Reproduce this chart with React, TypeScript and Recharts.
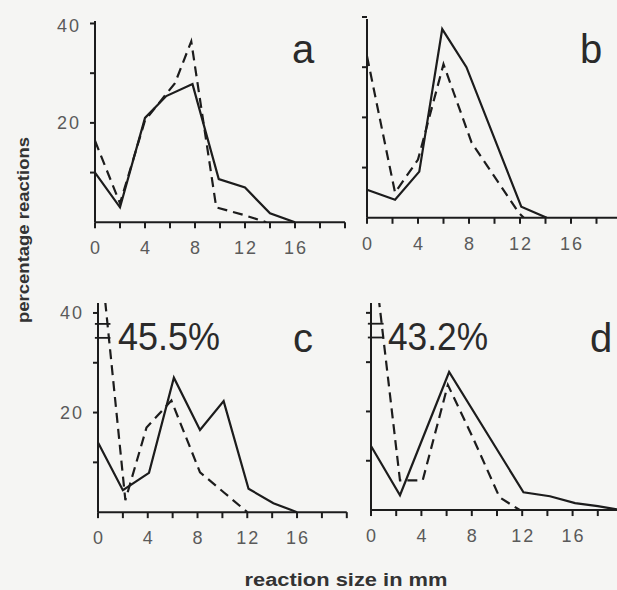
import React from "react";
import { LineChart, Line, XAxis, YAxis, ReferenceLine } from "recharts";

// ── Data ──────────────────────────────────────────────────────────────────────
// each point is [reaction size in mm, percentage reactions]

const X_TICKS = [0, 2, 4, 6, 8, 10, 12, 14, 16, 18, 20];
const X_LABELS = [0, 4, 8, 12, 16];
const Y_TICKS = [10, 20, 30, 40];
const Y_LABELS = [20, 40];

const aSolid = [[0, 10], [2, 3], [4, 21], [5.7, 25.4], [7.8, 27.8], [9.9, 8.7], [12, 7], [14, 1.8], [16, 0]];
const aDashed = [[0, 16.4], [2, 3.8], [4, 20.5], [6.4, 28], [7.7, 36.4], [9.7, 3], [12, 1.4], [13.7, 0]];

const bSolid = [[0, 5.6], [2.2, 3.6], [4.1, 9.2], [5.9, 37.6], [7.8, 30], [12.1, 2.2], [14.1, 0]];
const bDashed = [[0, 32.2], [2.2, 5], [4, 11.6], [6, 30.6], [8.2, 15], [11.9, 1], [12.3, 0]];

const cSolid = [[0, 14], [2, 4.4], [4.1, 7.9], [6.1, 27], [8.2, 16.5], [10.1, 22.3], [12.1, 4.7], [14.1, 1.8], [16, 0]];
const cDashed = [[0.45, 45.5], [2.2, 2.4], [3.9, 17], [5.9, 22.4], [8.2, 8], [10.1, 4], [12, 0]];

const dSolid = [[0, 13], [2.3, 3], [6.2, 28], [12.1, 3.6], [14.2, 2.8], [16.2, 1.4], [18, 0.8], [19.8, 0]];
const dDashed = [[0.6, 43.2], [2.3, 6], [4.1, 6], [6.1, 25.4], [8.1, 14.6], [10.2, 2.6], [11.8, 0]];

// ── Styles ────────────────────────────────────────────────────────────────────

const INK = "#1c1c1c";
const TICK_INK = "#5a5a5a";
const FONT = "'Liberation Sans', Arial, sans-serif";
const Y_W = 50;
const X_H = 40;
const M_T = 4;
const M_R = 4;

const toPts = (arr: number[][]) => arr.map(([x, y]) => ({ x, y }));

function XTick({ x, y, payload }: any) {
  if (!X_LABELS.includes(payload.value)) return <g />;
  return (
    <text x={x + 1} y={y} dy="0.71em" textAnchor="middle" fontFamily={FONT} fontSize={18} letterSpacing={2} fill={TICK_INK}>
      {payload.value}
    </text>
  );
}

function makeYTick(show: boolean) {
  return function YTick({ x, y, payload }: any) {
    if (!show || !Y_LABELS.includes(payload.value)) return <g />;
    return (
      <text x={x} y={y} dy="0.35em" textAnchor="end" fontFamily={FONT} fontSize={18} letterSpacing={2} fill={TICK_INK}>
        {payload.value}
      </text>
    );
  };
}

interface PanelProps {
  x0: number;
  baseline: number;
  xs: number;
  ys: number;
  yMax: number;
  solid: number[][];
  dashed: number[][];
  yLabels?: boolean;
  breakMarks?: boolean;
}

function Panel({ x0, baseline, xs, ys, yMax, solid, dashed, yLabels = false, breakMarks = false }: PanelProps) {
  const plotW = 20 * xs;
  const plotH = yMax * ys;
  const width = Y_W + plotW + M_R;
  const height = M_T + plotH + X_H;
  const axisStyle = { stroke: INK, strokeWidth: 2 };

  return (
    <div style={{ position: "absolute", left: x0 - Y_W, top: baseline - plotH - M_T }}>
      <LineChart width={width} height={height} margin={{ top: M_T, right: M_R, bottom: 0, left: 0 }}>
        <XAxis
          dataKey="x"
          type="number"
          domain={[0, 20]}
          ticks={X_TICKS}
          interval={0}
          height={X_H}
          tickSize={6}
          tickMargin={13}
          axisLine={axisStyle}
          tickLine={axisStyle}
          tick={XTick}
        />
        <YAxis
          type="number"
          domain={[0, yMax]}
          allowDataOverflow
          ticks={Y_TICKS}
          width={Y_W}
          tickSize={5}
          tickMargin={9}
          axisLine={axisStyle}
          tickLine={axisStyle}
          tick={makeYTick(yLabels)}
        />
        {breakMarks && (
          <ReferenceLine segment={[{ x: -0.25, y: 37.8 }, { x: 1, y: 37.8 }]} stroke={INK} strokeWidth={1.8} ifOverflow="visible" />
        )}
        {breakMarks && (
          <ReferenceLine segment={[{ x: -0.25, y: 35 }, { x: 1, y: 35 }]} stroke={INK} strokeWidth={1.8} ifOverflow="visible" />
        )}
        <Line data={toPts(dashed)} dataKey="y" type="linear" stroke={INK} strokeWidth={2.2} strokeDasharray="10 6" dot={false} isAnimationActive={false} />
        <Line data={toPts(solid)} dataKey="y" type="linear" stroke={INK} strokeWidth={2.2} dot={false} isAnimationActive={false} />
      </LineChart>
    </div>
  );
}

const letterStyle = { fontFamily: FONT, fontSize: 40, fill: "#2a2a2a" } as const;
const titleStyle = { fontFamily: FONT, fontWeight: 700, fill: "#333" } as const;

export default function App() {
  return (
    <div
      style={{
        position: "absolute",
        left: 0,
        top: 0,
        width: 617,
        height: 590,
        overflow: "hidden",
        background: "#f5f5f3",
      }}
    >
      <Panel x0={95} baseline={222} xs={12.5} ys={4.97} yMax={40.5} solid={aSolid} dashed={aDashed} yLabels />
      <Panel x0={367} baseline={218} xs={12.75} ys={5.02} yMax={39.6} solid={bSolid} dashed={bDashed} />
      <Panel x0={98} baseline={512} xs={12.44} ys={4.98} yMax={42} solid={cSolid} dashed={cDashed} yLabels breakMarks />
      <Panel x0={371} baseline={510} xs={12.6} ys={4.93} yMax={42} solid={dSolid} dashed={dDashed} breakMarks />

      <svg width={617} height={590} style={{ position: "absolute", left: 0, top: 0, pointerEvents: "none" }}>
        <text x={292} y={63} {...letterStyle}>a</text>
        <text x={580} y={63} {...letterStyle}>b</text>
        <text x={293} y={352} {...letterStyle}>c</text>
        <text x={590} y={352} {...letterStyle}>d</text>
        <text x={118} y={350} {...letterStyle} fontSize={38} textLength={102} lengthAdjust="spacingAndGlyphs">45.5%</text>
        <text x={388} y={350} {...letterStyle} fontSize={38} textLength={100} lengthAdjust="spacingAndGlyphs">43.2%</text>
        <text
          x={29}
          y={230}
          transform="rotate(-90 29 230)"
          textAnchor="middle"
          fontSize={16}
          textLength={186}
          lengthAdjust="spacingAndGlyphs"
          {...titleStyle}
        >
          percentage reactions
        </text>
        <text x={346} y={586} textAnchor="middle" fontSize={18} textLength={203} lengthAdjust="spacingAndGlyphs" {...titleStyle}>
          reaction size in mm
        </text>
      </svg>
    </div>
  );
}
